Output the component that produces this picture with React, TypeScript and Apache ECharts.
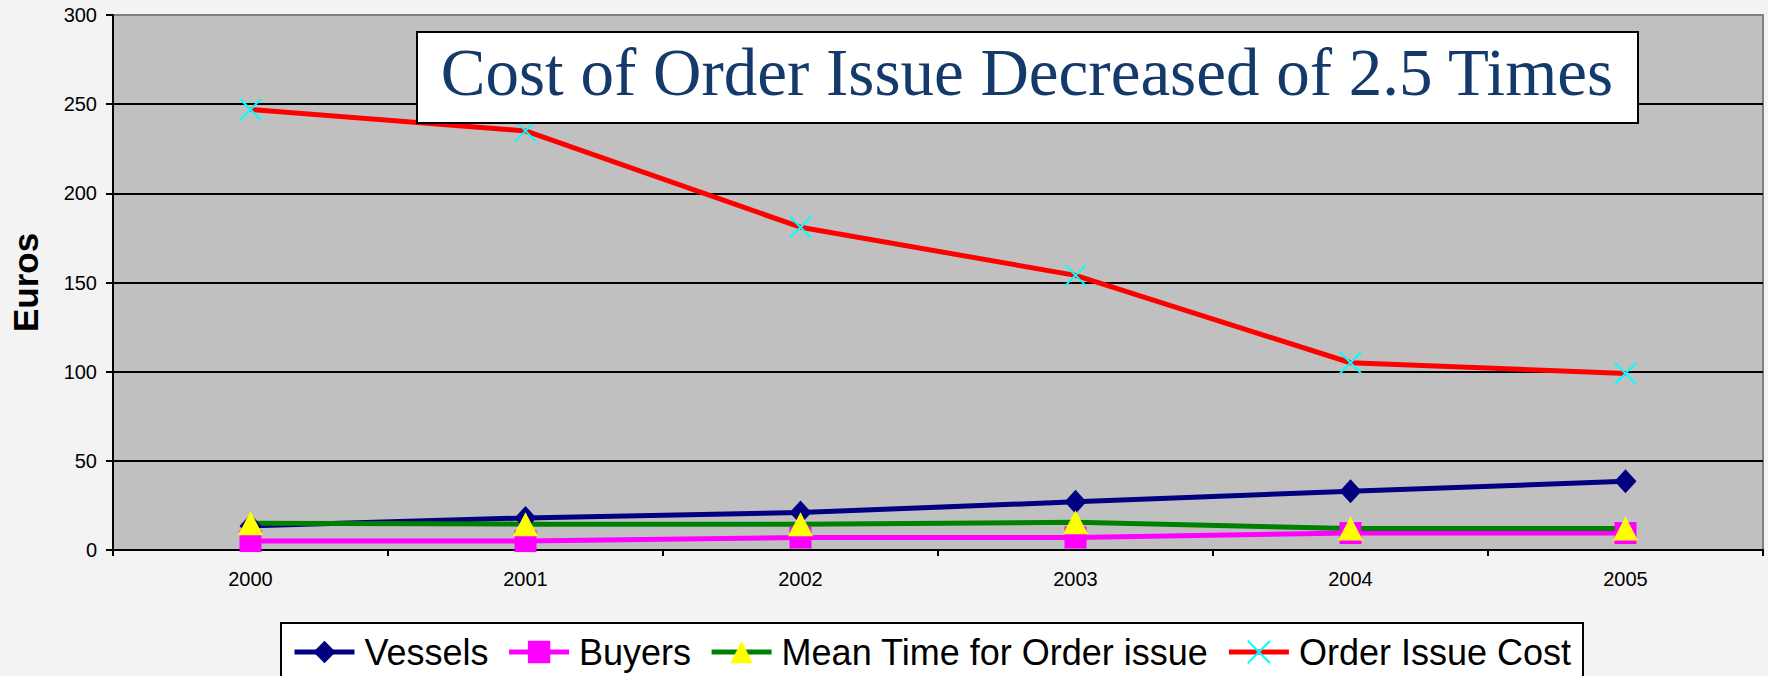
import React, { useEffect, useRef } from "react";
import * as echarts from "echarts";

const years = ["2000", "2001", "2002", "2003", "2004", "2005"];
const vessels = [13.5, 18, 21, 27, 33, 38.5];
const buyers = [5, 5, 7, 7, 9.5, 9.5];
const meanTime = [15, 14.5, 14.5, 15.5, 12, 12];
const orderCost = [247, 235, 181, 154, 105, 99];
const seriesNames = ["Vessels", "Buyers", "Mean Time for Order issue", "Order Issue Cost"];
const titleText = "Cost of Order Issue Decreased of 2.5 Times";
const yName = "Euros";

const SANS = "'Liberation Sans', Arial, sans-serif";

export default function App() {
  const ref = useRef<HTMLDivElement>(null);
  useEffect(() => {
    if (!ref.current) return;
    const chart = echarts.init(ref.current, null, { renderer: "svg" });
    const option: any = {
      animation: false,
      backgroundColor: "#f3f3f3",
      grid: {
        left: 110,
        top: 15,
        right: 5,
        bottom: 126,
        show: true,
        backgroundColor: "#c0c0c0",
        borderColor: "#808080",
        borderWidth: 2,
      },
      xAxis: {
        type: "category",
        data: years,
        boundaryGap: true,
        axisLine: { show: true, lineStyle: { color: "#000", width: 2 } },
        axisTick: { show: true, length: 6, lineStyle: { color: "#000", width: 2 } },
        axisLabel: { color: "#000", fontSize: 20, fontFamily: SANS, margin: 19 },
        splitLine: { show: false },
      },
      yAxis: {
        type: "value",
        min: 0,
        max: 300,
        interval: 50,
        name: yName,
        nameLocation: "middle",
        nameGap: 70,
        nameTextStyle: { color: "#000", fontSize: 35, fontWeight: "bold", fontFamily: SANS },
        axisLine: { show: true, lineStyle: { color: "#000", width: 2 } },
        axisTick: { show: true, length: 7, lineStyle: { color: "#000", width: 2 } },
        axisLabel: { color: "#000", fontSize: 20, fontFamily: SANS, margin: 16 },
        splitLine: {
          show: true,
          lineStyle: {
            color: ["#000", "#000", "#000", "#000", "#000", "#000", "#808080"],
            width: 2,
          },
        },
      },
      legend: {
        show: true,
        left: 281,
        top: 623,
        orient: "horizontal",
        padding: [11, 12, 12, 11],
        backgroundColor: "#fff",
        borderColor: "#000",
        borderWidth: 2,
        borderRadius: 0,
        itemWidth: 60,
        itemHeight: 28,
        itemGap: 18,
        lineStyle: { width: 5 },
        textStyle: { color: "#000", fontSize: 36, fontFamily: SANS, padding: [0, 0, 0, 5] },
        data: seriesNames,
      },
      series: [
        {
          name: seriesNames[0],
          type: "line",
          data: vessels,
          symbol: "diamond",
          symbolSize: [22, 24],
          lineStyle: { color: "#000080", width: 5 },
          itemStyle: { color: "#000080" },
        },
        {
          name: seriesNames[1],
          type: "line",
          data: buyers,
          symbol: "rect",
          symbolSize: 22,
          lineStyle: { color: "#ff00ff", width: 5 },
          itemStyle: { color: "#ff00ff" },
        },
        {
          name: seriesNames[2],
          type: "line",
          data: meanTime,
          symbol: "triangle",
          symbolSize: [25, 24],
          lineStyle: { color: "#008000", width: 5 },
          itemStyle: { color: "#ffff00" },
        },
        {
          name: seriesNames[3],
          type: "line",
          data: orderCost,
          symbol: "path://M0,0L10,10M10,0L0,10",
          symbolSize: 21,
          lineStyle: { color: "#ff0000", width: 5 },
          itemStyle: { color: "#00ffff", borderColor: "#00ffff", borderWidth: 2 },
        },
      ],
      graphic: [
        {
          type: "rect",
          shape: { x: 417, y: 32, width: 1221, height: 91 },
          style: { fill: "#fff", stroke: "#000", lineWidth: 2 },
          z: 100,
        },
        {
          type: "text",
          x: 1027,
          y: 72,
          style: {
            text: titleText,
            fill: "#133a6b",
            fontSize: 67,
            fontFamily: "'Liberation Serif', 'Times New Roman', serif",
            textAlign: "center",
            textVerticalAlign: "middle",
          },
          z: 101,
        },
      ],
    };
    chart.setOption(option);
    return () => chart.dispose();
  }, []);
  return (
    <div
      ref={ref}
      style={{ position: "fixed", left: 0, top: 0, width: 1768, height: 676 }}
    />
  );
}
